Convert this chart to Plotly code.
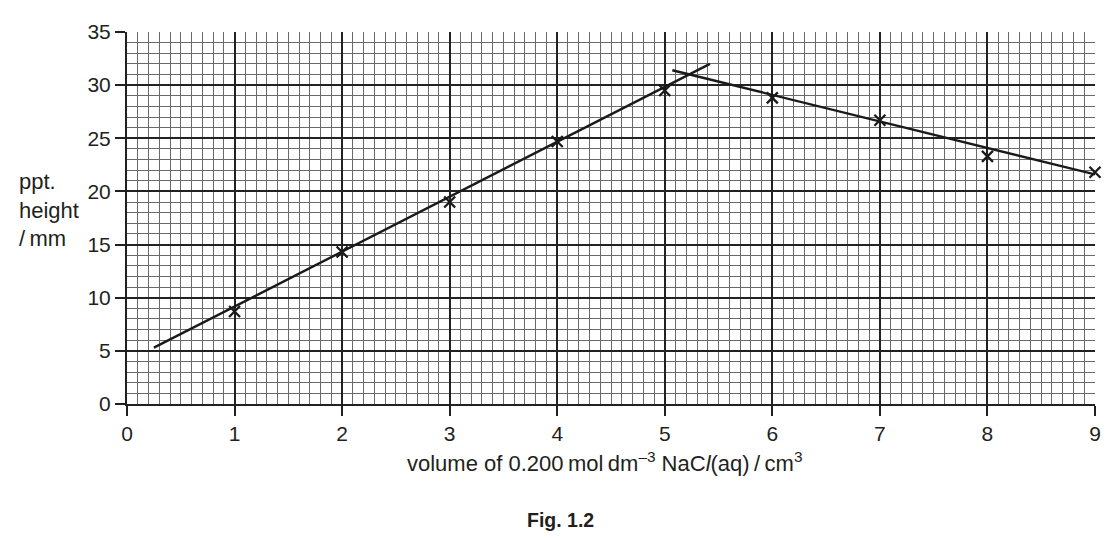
import plotly.graph_objects as go

# data
volume = [1, 2, 3, 4, 5, 6, 7, 8, 9]
height = [8.7, 14.3, 19.0, 24.7, 29.5, 28.8, 26.7, 23.3, 21.8]

line1_x = [0.25, 5.42]
line1_y = [5.3, 32.0]
line2_x = [5.07, 9.0]
line2_y = [31.4, 21.6]

x_ticks = [0, 1, 2, 3, 4, 5, 6, 7, 8, 9]
y_ticks = [0, 5, 10, 15, 20, 25, 30, 35]

FONT = "Liberation Sans, Arial, sans-serif"

fig = go.Figure()
fig.add_trace(go.Scatter(x=line1_x, y=line1_y, mode="lines",
                         line=dict(color="#1a1a1a", width=2.4), showlegend=False))
fig.add_trace(go.Scatter(x=line2_x, y=line2_y, mode="lines",
                         line=dict(color="#1a1a1a", width=2.4), showlegend=False))
fig.add_trace(go.Scatter(x=volume, y=height, mode="markers",
                         marker=dict(symbol="x-thin", size=11,
                                     line=dict(color="#1a1a1a", width=2.3)),
                         showlegend=False, cliponaxis=False))

fig.update_layout(
    width=1112, height=532,
    margin=dict(l=119, r=25, t=19, b=136),
    paper_bgcolor="white", plot_bgcolor="white",
    font=dict(family=FONT, size=21, color="#231f20"),
)

fig.update_xaxes(
    range=[0, 9], tickvals=x_ticks, ticktext=[str(v) for v in x_ticks],
    showgrid=True, gridcolor="#222222", gridwidth=1.5,
    minor=dict(dtick=0.1, tick0=0, showgrid=True, gridcolor="#6a6a6a", gridwidth=0.9),
    showline=True, linecolor="#231f20", linewidth=2,
    ticks="outside", ticklen=10, tickwidth=1.8, tickcolor="#231f20",
    zeroline=False, tickfont=dict(size=21),
)
fig.update_yaxes(
    range=[0, 35], tickvals=y_ticks, ticktext=[str(v) for v in y_ticks],
    showgrid=True, gridcolor="#222222", gridwidth=1.5,
    minor=dict(dtick=1, tick0=0, showgrid=True, gridcolor="#6a6a6a", gridwidth=0.9),
    showline=True, linecolor="#231f20", linewidth=2,
    ticks="outside", ticklen=10, tickwidth=1.8, tickcolor="#231f20",
    zeroline=False, tickfont=dict(size=21),
)

fig.add_annotation(
    text="ppt.<br>height<br>/\u2009mm", xref="paper", yref="paper",
    x=-0.1136, y=0.5225, xanchor="left", yanchor="middle", align="left",
    showarrow=False, font=dict(size=22),
)
fig.add_annotation(
    text="volume of 0.200\u2009mol\u2009dm<sup>–3</sup> NaC<i>l</i>(aq)\u2009/\u2009cm<sup>3</sup>",
    xref="paper", yref="paper", x=0.493, y=-0.1565, xanchor="center", yanchor="middle",
    showarrow=False, font=dict(size=22),
)
fig.add_annotation(
    text="<b>Fig. 1.2</b>", xref="paper", yref="paper", x=0.448, y=-0.313,
    xanchor="center", yanchor="middle", showarrow=False, font=dict(size=19.5),
)

fig.write_html("out.html")
